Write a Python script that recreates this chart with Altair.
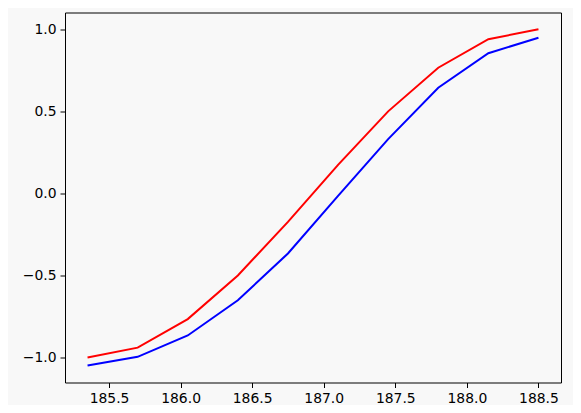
import altair as alt
import pandas as pd

# sample positions (shared by both curves)
x_vals = [185.35, 185.70, 186.05, 186.40, 186.75, 187.10, 187.45, 187.80, 188.15, 188.50]

red_vals = [-1.000, -0.940, -0.766, -0.500, -0.174, 0.174, 0.500, 0.766, 0.940, 1.000]
blue_vals = [-1.049, -0.996, -0.866, -0.651, -0.366, -0.015, 0.331, 0.644, 0.854, 0.949]

x_ticks = [185.5, 186.0, 186.5, 187.0, 187.5, 188.0, 188.5]
y_ticks = [-1.0, -0.5, 0.0, 0.5, 1.0]

rows = []
for name, vals in [("red", red_vals), ("blue", blue_vals)]:
    for xv, yv in zip(x_vals, vals):
        rows.append({"x": xv, "y": yv, "series": name})
df = pd.DataFrame(rows)

chart = alt.Chart(df).mark_line(strokeWidth=2).encode(
    x=alt.X("x:Q",
            scale=alt.Scale(domain=[185.1925, 188.6575], nice=False, zero=False),
            axis=alt.Axis(values=x_ticks, format=".1f", title=None)),
    y=alt.Y("y:Q",
            scale=alt.Scale(domain=[-1.1525, 1.1025], nice=False, zero=False),
            axis=alt.Axis(values=y_ticks, format=".1f", title=None)),
    color=alt.Color("series:N",
                    scale=alt.Scale(domain=["red", "blue"], range=["#ff0000", "#0000ff"]),
                    legend=None),
).properties(
    width=496,
    height=370,
    autosize=alt.AutoSizeParams(type="none"),
    padding={"left": 57, "top": 4.5, "right": 12, "bottom": 22},
    background="#f8f8f8",
).configure_view(
    stroke="black",
    strokeWidth=1,
    fill="#f8f8f8",
).configure_axis(
    grid=False,
    domain=False,
    ticks=True,
    tickColor="black",
    tickSize=5,
    tickWidth=1,
    labelFont="DejaVu Sans",
    labelFontSize=13.9,
    labelColor="black",
    labelPadding=4,
)

chart.save("out.html", embed_options={"renderer": "svg", "actions": False})
